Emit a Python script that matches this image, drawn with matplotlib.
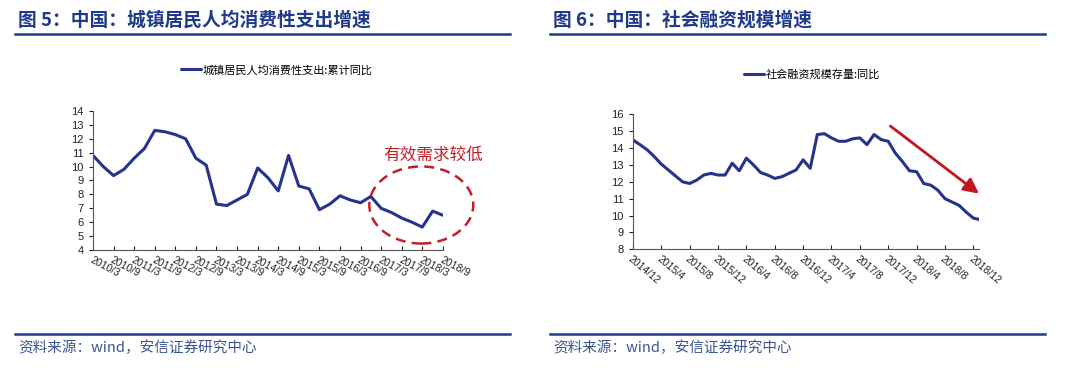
import matplotlib
matplotlib.use('Agg')
from matplotlib import pyplot as plt
from matplotlib.patches import Ellipse

plt.rcParams['font.family'] = ['Liberation Sans', 'Noto Sans CJK SC', 'DejaVu Sans']

# left chart: quarterly, 2010/3 .. 2018/9
consumeLabels = ['2010/3', '2010/9', '2011/3', '2011/9', '2012/3', '2012/9',
                 '2013/3', '2013/9', '2014/3', '2014/9', '2015/3', '2015/9',
                 '2016/3', '2016/9', '2017/3', '2017/9', '2018/3', '2018/9']
consumeValues = [10.8, 10.0, 9.35, 9.8, 10.6, 11.3, 12.6, 12.5, 12.3, 12.0,
                 10.6, 10.1, 7.3, 7.2, 7.6, 8.0, 9.9, 9.2, 8.25, 10.8,
                 8.6, 8.4, 6.9, 7.3, 7.9, 7.6, 7.4, 7.85, 7.0, 6.7,
                 6.3, 6.0, 5.65, 6.8, 6.5]

# right chart: monthly, 2014/12 .. 2018/12
tsfLabels = ['2014/12', '2015/4', '2015/8', '2015/12', '2016/4', '2016/8',
             '2016/12', '2017/4', '2017/8', '2017/12', '2018/4', '2018/8', '2018/12']
tsfValues = [14.48, 14.2, 13.9, 13.5, 13.05, 12.7, 12.35, 12.0, 11.9, 12.1,
             12.4, 12.5, 12.4, 12.4, 13.1, 12.65, 13.4, 13.0, 12.55, 12.4,
             12.2, 12.3, 12.5, 12.7, 13.3, 12.8, 14.8, 14.85, 14.6, 14.4,
             14.4, 14.55, 14.6, 14.2, 14.8, 14.5, 14.4, 13.7, 13.2, 12.65,
             12.6, 11.9, 11.8, 11.5, 11.0, 10.8, 10.6, 10.2, 9.85, 9.75]

navy = '#1f3a8a'
lineColor = '#25338f'
cjk = ['Noto Sans CJK SC', 'DejaVu Sans']

fig = plt.figure(figsize=(10.8, 3.71), dpi=100)

def style(ax):
    for s in ['top', 'right']:
        ax.spines[s].set_visible(False)
    for s in ['left', 'bottom']:
        ax.spines[s].set_color('#555555')
        ax.spines[s].set_linewidth(0.8)
    ax.tick_params(axis='y', direction='out', length=3, labelsize=8, width=0.8, colors='#222222')
    ax.tick_params(axis='x', direction='in', length=3, labelsize=7.5, width=0.8, colors='#222222')

# ---- left
ax1 = fig.add_axes([0.0861, 0.326, 0.324, 0.375])
style(ax1)
ax1.plot(range(len(consumeValues)), consumeValues, color=lineColor, lw=2.2,
         label='城镇居民人均消费性支出:累计同比', solid_capstyle='round')
ax1.set_ylim(4, 14)
ax1.set_yticks(range(4, 15))
ax1.set_xlim(0, len(consumeValues) - 1)
ax1.set_xticks(range(0, len(consumeValues), 2))
ax1.set_xticklabels(consumeLabels, rotation=-28, ha='left', va='top', rotation_mode='anchor')
ax1.legend(loc='center', bbox_to_anchor=(277 / 1080, 0.811), bbox_transform=fig.transFigure,
           frameon=False, handlelength=1.8, handletextpad=0.1,
           prop={'family': cjk, 'size': 8})
ell = Ellipse((31.9, 7.24), 10.1, 5.54, fill=False, ec='#c41e28', lw=1.8,
              ls=(0, (4, 2.5)), clip_on=False)
ax1.add_patch(ell)
ax1.text(28.2, 10.85, '有效需求较低', color='#c41e28', fontsize=12, family=cjk,
         fontweight='light', ha='left', va='center')

# ---- right
ax2 = fig.add_axes([0.586, 0.328, 0.3205, 0.364])
style(ax2)
ax2.plot(range(len(tsfValues)), tsfValues, color=lineColor, lw=2.2,
         label='社会融资规模存量:同比', solid_capstyle='round')
ax2.set_ylim(8, 16)
ax2.set_yticks(range(8, 17))
ax2.set_xlim(0, 48.8)
ax2.set_xticks(range(0, 49, 4))
ax2.set_xticklabels(tsfLabels, rotation=-40, ha='left', va='top', rotation_mode='anchor')
ax2.legend(loc='center', bbox_to_anchor=(812 / 1080, 0.798), bbox_transform=fig.transFigure,
           frameon=False, handlelength=1.8, handletextpad=0.1,
           prop={'family': cjk, 'size': 8})
ax2.annotate('', xy=(49.1, 11.2), xytext=(36, 15.4), annotation_clip=False,
             arrowprops=dict(arrowstyle='-|>,head_length=0.9,head_width=0.45',
                             color='#c0171f', lw=2))

# ---- titles, rules, sources
for x0, x1, title in [(15, 510, '图 5：中国：城镇居民人均消费性支出增速'),
                      (550, 1045, '图 6：中国：社会融资规模增速')]:
    fig.text((x0 + 3) / 1080, 1 - 20 / 371, title, family=cjk, fontweight='bold',
             fontsize=13.5, color=navy, va='center', ha='left')
    fig.add_artist(plt.Line2D([x0 / 1080, x1 / 1080], [1 - 34 / 371] * 2,
                              color='#1a3e8c', lw=1.8))
    fig.add_artist(plt.Line2D([x0 / 1080, x1 / 1080], [1 - 334 / 371] * 2,
                              color='#1a3e8c', lw=1.8))
    fig.text((x0 + 3) / 1080, 1 - 348 / 371, '资料来源：wind，安信证券研究中心', family=cjk,
             style='italic', fontsize=10.5, color='#3a5595', va='center', ha='left')

fig.savefig('out.png', dpi=100)
